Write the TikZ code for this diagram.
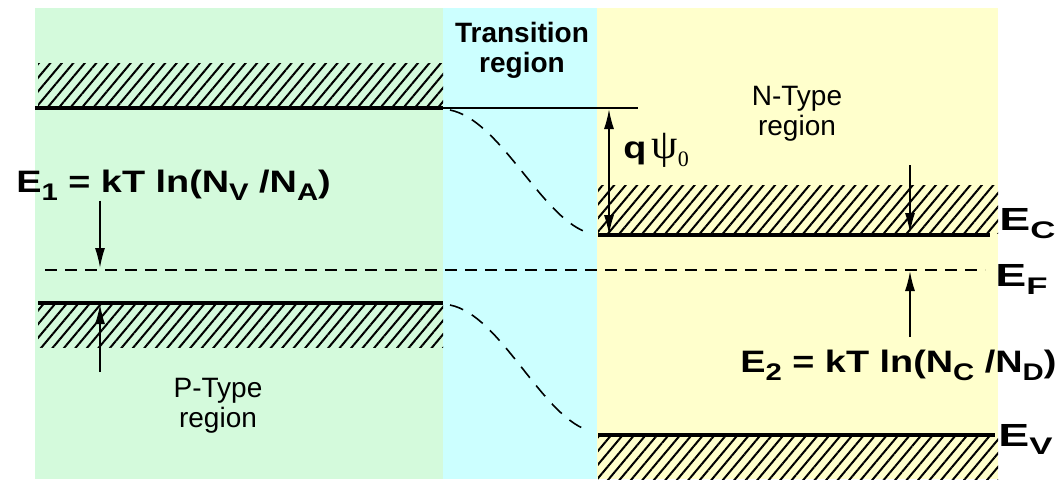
\documentclass[tikz,border=0pt]{standalone}
\usepackage{fontspec}
\setmainfont{Liberation Sans}
\newfontfamily\widefont[FakeStretch=1.22]{Liberation Sans}
\newfontfamily\widerfont[FakeStretch=1.45]{Liberation Sans}
\newfontfamily\greekfont{Liberation Serif}
\usetikzlibrary{arrows.meta,patterns.meta}
\definecolor{pgreen}{RGB}{212,250,220}
\definecolor{tcyan}{RGB}{204,255,255}
\definecolor{nyellow}{RGB}{255,255,204}
\newcommand{\lsub}[1]{\raisebox{-0.5ex}{\fontsize{12}{12}\selectfont #1}}

\begin{document}
\begin{tikzpicture}[x=0.5pt,y=-0.5pt,>={Latex[length=10pt,width=5pt]},
    band/.style={line width=2pt},
    thinline/.style={line width=0.8pt},
    hatch/.style={pattern={Lines[angle=50,distance=4.4pt,line width=1pt]}},
    level/.style={dash pattern=on 6pt off 4pt,line width=0.8pt},
    bandbend/.style={dash pattern=on 7pt off 5pt,line width=0.8pt},
    eqn/.style={font=\widefont\bfseries\fontsize{15.5}{18}\selectfont,inner sep=0pt},
    edge label/.style={font=\widerfont\bfseries\fontsize{16}{18}\selectfont,inner sep=0pt,anchor=base west},
    region/.style={font=\fontsize{14}{15}\selectfont,align=center,inner sep=0pt}]
  \useasboundingbox (0,0) rectangle (1062,479);
  % backgrounds
  \fill[pgreen] (35,8) rectangle (443,479);
  \fill[tcyan] (443,8) rectangle (597,479);
  \fill[nyellow] (597,8) rectangle (998,479);
  % hatched bands
  \fill[hatch] (38,63) rectangle (443,105);
  \fill[hatch] (38,305) rectangle (443,347);
  \fill[hatch] (598,185) rectangle (998,233);
  \fill[hatch] (598,437) rectangle (998,479);
  % band edges
  \coordinate (pc) at (443,108);
  \coordinate (pv) at (443,303);
  \coordinate (nc) at (598,235);
  \coordinate (nv) at (598,435);
  \draw[band] (35,108) -- (pc);
  \draw[band] (38,303) -- (pv);
  \draw[band] (nc) -- (990,235);
  \draw[band] (nv) -- (995,435);
  \draw[thinline] (pc) -- (638,108);
  \draw[level] (45,270) -- (985,270);
  % bending in the transition region
  \draw[bandbend] (450,110) .. controls (500,120) and (540,215) .. (586,232);
  \draw[bandbend] (450,305) .. controls (500,315) and (540,413) .. (587,430);
  % labels
  \node[region,font=\bfseries\fontsize{14}{15}\selectfont] (trans) at (522,50) {Transition\\region};
  \node[region] (ntype) at (797,114) {N-Type\\region};
  \node[region] (ptype) at (218,406) {P-Type\\region};
  \node[eqn,anchor=base west] (e1) at (16,192) {E\lsub{1} = kT ln(N\lsub{V} /N\lsub{A})};
  \node[eqn,anchor=base west] (e2) at (740,372) {E\lsub{2} = kT ln(N\lsub{C} /N\lsub{D})};
  \node[edge label] (ec) at (999,230) {E\lsub{C}};
  \node[edge label] (ef) at (995,286) {E\lsub{F}};
  \node[edge label] (ev) at (998,446) {E\lsub{V}};
  \node[eqn,anchor=base west] (qpsi) at (623,158) {q\,{\greekfont\mdseries\fontsize{21}{21}\selectfont ψ}\lsub{\greekfont\mdseries\fontsize{11}{11}\selectfont 0}};
  % arrows
  \coordinate (qtop) at (609,109);
  \coordinate (qbot) at (609,235);
  \coordinate (e1tip) at (100,268);
  \coordinate (pvtip) at (100,304);
  \coordinate (pvtail) at (100,372);
  \coordinate (ectail) at (910,165);
  \coordinate (ectip) at (910,233);
  \coordinate (eftip) at (910,271);
  \coordinate (eftail) at (910,337);
  \draw[<->,thinline] (qtop) -- (qbot);
  \draw[->,thinline] (e1.south -| e1tip) -- (e1tip);
  \draw[->,thinline] (pvtail) -- (pvtip);
  \draw[->,thinline] (ectail) -- (ectip);
  \draw[->,thinline] (eftail) -- (eftip);
\end{tikzpicture}
\end{document}
